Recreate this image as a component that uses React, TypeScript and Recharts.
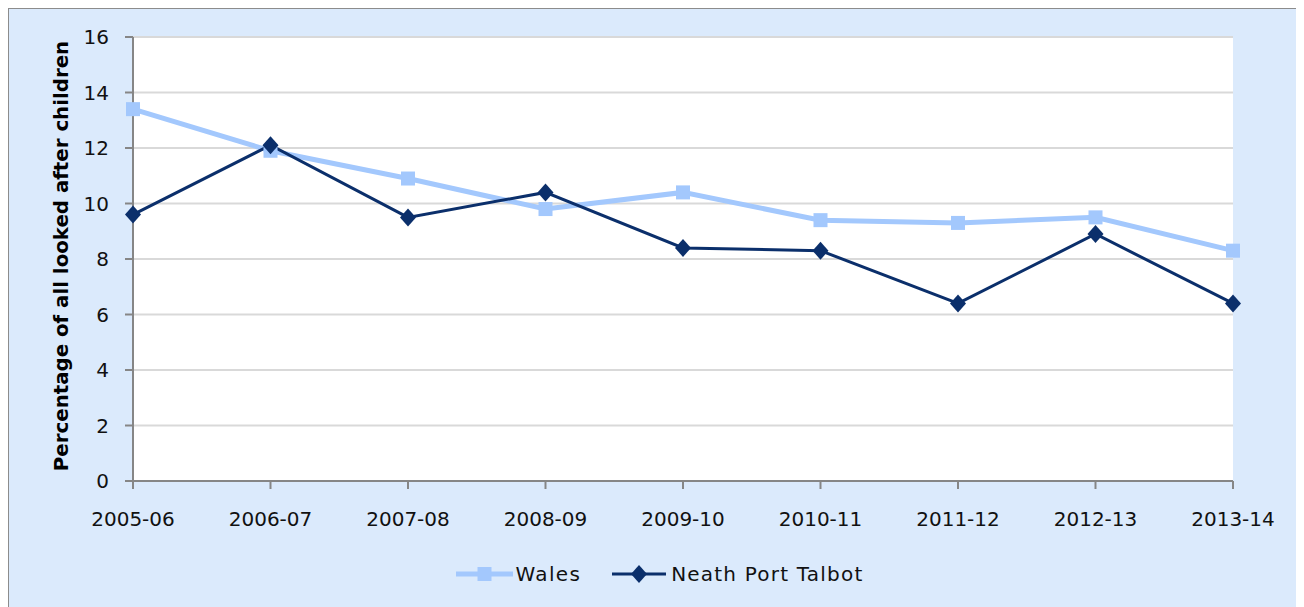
import React from 'react';
import { LineChart, Line, XAxis, YAxis, CartesianGrid, Legend } from 'recharts';

const categories = ['2005-06', '2006-07', '2007-08', '2008-09', '2009-10', '2010-11', '2011-12', '2012-13', '2013-14'];
const walesValues = [13.4, 11.9, 10.9, 9.8, 10.4, 9.4, 9.3, 9.5, 8.3];
const nptValues = [9.6, 12.1, 9.5, 10.4, 8.4, 8.3, 6.4, 8.9, 6.4];
const yTicks = [0, 2, 4, 6, 8, 10, 12, 14, 16];

const data = categories.map((c, i) => ({ year: c, wales: walesValues[i], npt: nptValues[i] }));

const WALES = '#a3c8fd';
const NPT = '#0b2f6b';
const FONT = '"DejaVu Sans", Verdana, sans-serif';

const SquareDot = (props: any) => {
  const { cx, cy } = props;
  if (cx == null || cy == null) return null;
  return <rect x={cx - 7} y={cy - 7} width={14} height={14} fill={WALES} />;
};

const DiamondDot = (props: any) => {
  const { cx, cy } = props;
  if (cx == null || cy == null) return null;
  return <polygon points={`${cx},${cy - 9} ${cx + 8},${cy} ${cx},${cy + 9} ${cx - 8},${cy}`} fill={NPT} />;
};

const LegendContent = () => (
  <div style={{ height: 24, display: 'flex', justifyContent: 'center', alignItems: 'center', fontFamily: FONT, fontSize: 20, color: '#111', paddingLeft: 6 }}>
    <svg width={57} height={20} style={{ marginRight: 3 }}>
      <line x1={0} y1={10} x2={57} y2={10} stroke={WALES} strokeWidth={5} />
      <rect x={21.5} y={3} width={14} height={14} fill={WALES} />
    </svg>
    <span style={{ letterSpacing: 1.3 }}>Wales</span>
    <svg width={54} height={20} style={{ marginLeft: 31, marginRight: 5 }}>
      <line x1={0} y1={10} x2={54} y2={10} stroke={NPT} strokeWidth={3} />
      <polygon points="27,1 35,10 27,19 19,10" fill={NPT} />
    </svg>
    <span style={{ letterSpacing: 1.2 }}>Neath Port Talbot</span>
  </div>
);

const YLabel = (props: any) => {
  const vb = props.viewBox || { x: 0, y: 28, width: 124, height: 444 };
  const x = vb.x + 52;
  const y = vb.y + vb.height / 2 - 3;
  return (
    <text x={x} y={y} transform={`rotate(-90, ${x}, ${y})`} textAnchor="middle" dominantBaseline="central"
      style={{ fontFamily: FONT, fontSize: 19.8, fontWeight: 'bold', fill: '#000' }}>
      Percentage of all looked after children
    </text>
  );
};

export default function App() {
  return (
    <div style={{ width: 1295, height: 598, background: '#dbeafc', borderLeft: '1px solid #8c8c8c', borderTop: '1px solid #8c8c8c' }}>
      <LineChart width={1295} height={598} data={data} margin={{ top: 28, right: 71, left: 0, bottom: 21 }}>
        <CartesianGrid vertical={false} stroke="#d9d9d9" strokeWidth={2} fill="#ffffff" />
        <XAxis dataKey="year" height={81} tickSize={8} tickMargin={23}
          axisLine={{ stroke: '#868686', strokeWidth: 2 }} tickLine={{ stroke: '#868686', strokeWidth: 2 }}
          tick={{ fontFamily: FONT, fontSize: 20, fill: '#111' }} interval={0} />
        <YAxis width={124} domain={[0, 16]} ticks={yTicks} tickSize={8} tickMargin={16}
          axisLine={{ stroke: '#868686', strokeWidth: 2 }} tickLine={{ stroke: '#868686', strokeWidth: 2 }}
          tick={{ fontFamily: FONT, fontSize: 20, fill: '#111' }} label={<YLabel />} />
        <Legend verticalAlign="bottom" content={<LegendContent />} wrapperStyle={{ left: 0, width: 1295 }} />
        <Line dataKey="wales" name="Wales" stroke={WALES} strokeWidth={5} dot={<SquareDot />} activeDot={false} isAnimationActive={false} />
        <Line dataKey="npt" name="Neath Port Talbot" stroke={NPT} strokeWidth={3} dot={<DiamondDot />} activeDot={false} isAnimationActive={false} />
      </LineChart>
    </div>
  );
}
